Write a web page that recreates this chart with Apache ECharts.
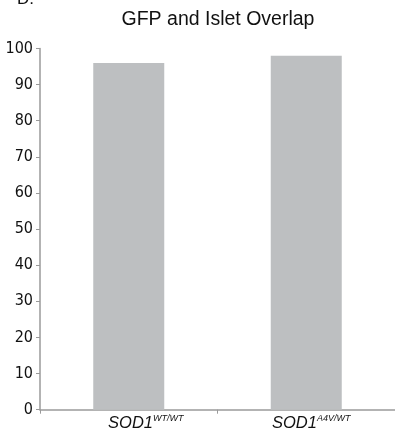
<!DOCTYPE html>
<html>
<head>
<meta charset="utf-8">
<script src="https://cdn.jsdelivr.net/npm/echarts@6/dist/echarts.min.js"></script>
<style>
	html, body { margin: 0; padding: 0; background: #fff; }
	#chart { width: 395px; height: 432px; }
</style>
</head>
<body>
<div id="chart"></div>
<script>
// 类别（基因型）与数值
const genotypes = ['WT/WT', 'A4V/WT'];
const overlapValues = [96, 98];
const yTicks = [0, 10, 20, 30, 40, 50, 60, 70, 80, 90, 100];
// 标签在原图里略偏右
const labelShift = [34, 10];

const chart = echarts.init(document.getElementById('chart'));

const option = {
	backgroundColor: '#fff',
	animation: false,
	title: {
		text: 'GFP and Islet Overlap',
		left: 213,
		textAlign: 'center',
		top: 5,
		textStyle: {
			fontFamily: 'Liberation Sans',
			fontWeight: 'normal',
			fontSize: 19.5,
			color: '#111'
		}
	},
	graphic: [{
		type: 'text',
		left: 17,
		top: -9,
		style: {
			text: 'D.',
			font: '17px "Liberation Sans"',
			fill: '#111'
		}
	}],
	grid: {
		left: 40,
		width: 364,
		top: 48.5,
		bottom: 22.3,
		containLabel: false
	},
	xAxis: {
		type: 'category',
		data: genotypes.map(function (g, i) {
			return {
				value: g,
				textStyle: { padding: [0, 0, 0, labelShift[i]] }
			};
		}),
		axisLine: { lineStyle: { color: '#9a9a9a', width: 1.5 } },
		axisTick: { show: true, length: 4, lineStyle: { color: '#9a9a9a' } },
		axisLabel: {
			margin: 4,
			formatter: function (v) {
				return '{m|SOD1}{s|' + v + '}';
			},
			rich: {
				m: {
					fontFamily: 'Liberation Sans',
					fontStyle: 'italic',
					fontSize: 16.5,
					color: '#111',
					verticalAlign: 'bottom',
					lineHeight: 18
				},
				s: {
					fontFamily: 'Liberation Sans',
					fontStyle: 'italic',
					fontSize: 9,
					color: '#111',
					verticalAlign: 'top',
					padding: [0, 0, 9, 0],
					lineHeight: 18
				}
			}
		}
	},
	yAxis: {
		type: 'value',
		min: 0,
		max: 100,
		interval: 10,
		axisLine: { show: true, lineStyle: { color: '#9a9a9a', width: 1.5 } },
		axisTick: { show: true, length: 4, lineStyle: { color: '#9a9a9a' } },
		splitLine: { show: false },
		axisLabel: {
			margin: 7,
			fontStyle: 'condensed',
			fontFamily: '"Liberation Sans Narrow", "DejaVu Sans Condensed", "DejaVu Sans"',
			fontSize: 16,
			color: '#111',
			formatter: function (v) {
				return yTicks.indexOf(v) >= 0 ? String(v) : '';
			}
		}
	},
	series: [{
		type: 'bar',
		data: overlapValues,
		barWidth: '40%',
		itemStyle: { color: '#bdbfc1' }
	}]
};

chart.setOption(option);
</script>
</body>
</html>
